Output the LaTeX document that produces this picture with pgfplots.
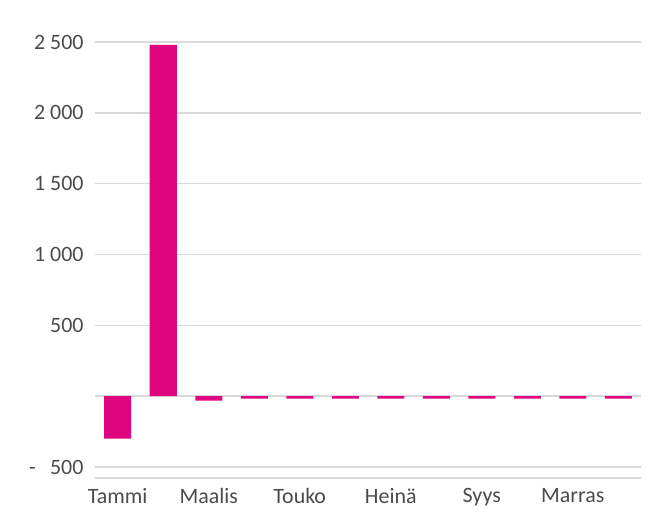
\documentclass[border=0pt]{standalone}
\usepackage{pgfplots}
\pgfplotsset{compat=1.18}
\usepackage{fontspec}
\setmainfont{Carlito}
\definecolor{barpink}{RGB}{224,6,128}
\definecolor{gridgray}{RGB}{217,217,217}
\definecolor{txtgray}{RGB}{75,75,75}
\begin{document}
\begin{tikzpicture}
\useasboundingbox (-95bp,-34bp) rectangle (553bp,478bp);
\begin{axis}[
  at={(0,0)}, anchor=south west,
  scale only axis,
  width=546bp, height=436bp,
  xmin=-0.5, xmax=11.5,
  ymin=-577.6, ymax=2500,
  ybar, bar width=27bp,
  separate axis lines,
  axis x line*=bottom, axis y line*=left,
  x axis line style={draw=gridgray, line width=1.5bp, -},
  y axis line style={draw=none, -},
  major tick length=0pt,
  xtick={0,...,11},
  xticklabels={Tammi,,Maalis,,Touko,,Heinä,,Syys,,Marras,},
  ytick={-500,0,500,1000,1500,2000,2500},
  yticklabels={-\hspace{0.65em}500,,500,1 000,1 500,2 000,2 500},
  ymajorgrids,
  grid style={draw=gridgray, line width=1.5bp},
  tick label style={font=\fontsize{22}{22}\selectfont, text=txtgray},
  yticklabel style={xshift=-8bp},
  xticklabel style={yshift=-7bp},
]
\addplot[fill=barpink, draw=none] coordinates {
 (0,-300) (1,2480) (2,-32) (3,-18) (4,-18) (5,-18) (6,-18) (7,-18) (8,-18) (9,-18) (10,-18) (11,-18)
};
\end{axis}
\end{tikzpicture}
\end{document}
